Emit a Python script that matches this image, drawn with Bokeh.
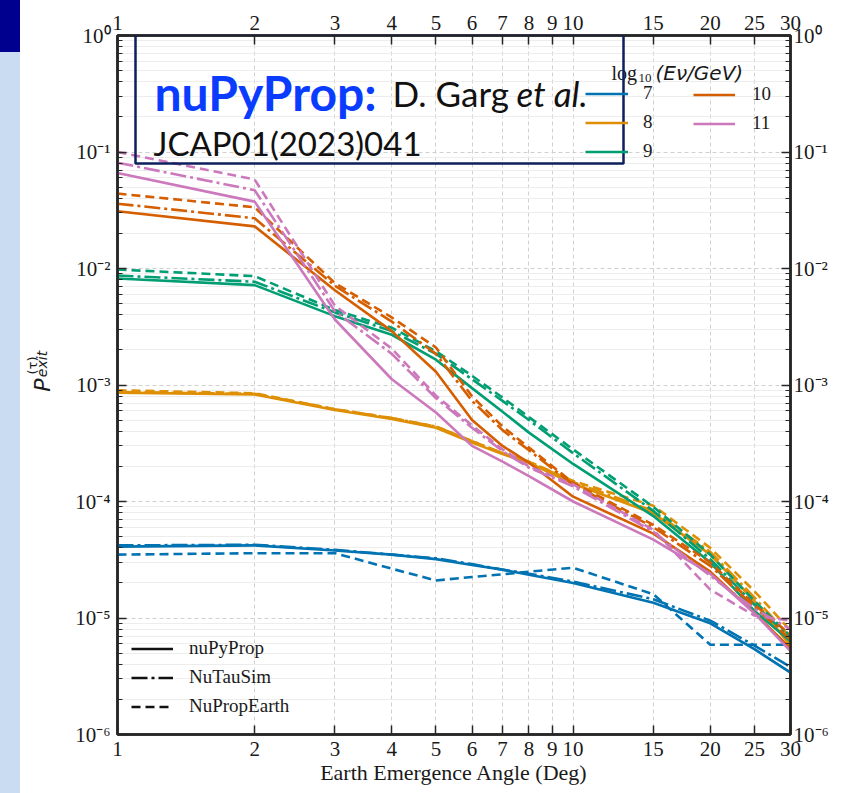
import math
from bokeh.plotting import figure
from bokeh.layouts import row
from bokeh.models import (LogAxis, LinearAxis, FixedTicker, CustomJSTickFormatter, Legend,
                          LegendItem, Label, BoxAnnotation, Spacer)
from bokeh.embed import file_html
from bokeh.resources import INLINE

# ---------------- data ----------------
X_DEG = [1, 2, 3, 4, 5, 6, 7, 8, 10, 15, 20, 25, 30]

E7_NUPYPROP = [4.1e-5, 4.2e-5, 3.8e-5, 3.5e-5, 3.2e-5, 2.85e-5, 2.6e-5, 2.35e-5, 2.0e-5, 1.35e-5, 9.0e-6, 5.4e-6, 3.4e-6]
E7_NUTAUSIM = [4.2e-5, 4.25e-5, 3.85e-5, 3.5e-5, 3.25e-5, 2.9e-5, 2.6e-5, 2.4e-5, 2.05e-5, 1.45e-5, 9.5e-6, 5.8e-6, 3.8e-6]
E7_NUPROPEARTH = [3.5e-5, 3.6e-5, 3.6e-5, 2.65e-5, 2.1e-5, 2.25e-5, 2.37e-5, 2.5e-5, 2.7e-5, 1.6e-5, 5.9e-6, 5.9e-6, 5.9e-6]

E8_NUPYPROP = [8.6e-4, 8.3e-4, 6.1e-4, 5.1e-4, 4.3e-4, 3.2e-4, 2.55e-4, 2.15e-4, 1.42e-4, 7.9e-5, 3.5e-5, 1.4e-5, 5.8e-6]
E8_NUTAUSIM = [8.7e-4, 8.4e-4, 6.2e-4, 5.2e-4, 4.4e-4, 3.3e-4, 2.6e-4, 2.2e-4, 1.47e-4, 8.3e-5, 3.7e-5, 1.5e-5, 6.8e-6]
E8_NUPROPEARTH = [9.0e-4, 8.5e-4, 6.2e-4, 5.2e-4, 4.4e-4, 3.3e-4, 2.6e-4, 2.2e-4, 1.5e-4, 9.2e-5, 4.0e-5, 1.7e-5, 7.8e-6]

E9_NUPYPROP = [8.2e-3, 7.2e-3, 3.9e-3, 2.7e-3, 1.65e-3, 9.4e-4, 5.9e-4, 3.9e-4, 2.1e-4, 7.5e-5, 3.0e-5, 1.15e-5, 6.3e-6]
E9_NUTAUSIM = [8.7e-3, 7.7e-3, 4.2e-3, 2.9e-3, 1.85e-3, 1.12e-3, 7.3e-4, 5.0e-4, 2.6e-4, 8.3e-5, 3.2e-5, 1.3e-5, 6.8e-6]
E9_NUPROPEARTH = [9.8e-3, 8.6e-3, 4.4e-3, 3.1e-3, 1.95e-3, 1.2e-3, 7.8e-4, 5.3e-4, 2.8e-4, 9.0e-5, 3.5e-5, 1.4e-5, 7.0e-6]

E10_NUPYPROP = [3.1e-2, 2.3e-2, 6.5e-3, 2.9e-3, 1.3e-3, 5.0e-4, 3.0e-4, 2.15e-4, 1.1e-4, 5.3e-5, 2.5e-5, 1.1e-5, 5.5e-6]
E10_NUTAUSIM = [3.6e-2, 2.7e-2, 7.1e-3, 3.5e-3, 1.85e-3, 7.3e-4, 4.1e-4, 2.75e-4, 1.4e-4, 6.0e-5, 2.8e-5, 1.25e-5, 6.5e-6]
E10_NUPROPEARTH = [4.4e-2, 3.35e-2, 7.5e-3, 3.8e-3, 2.1e-3, 8.0e-4, 4.4e-4, 2.9e-4, 1.45e-4, 6.3e-5, 3.0e-5, 1.3e-5, 7.2e-6]

E11_NUPYPROP = [6.6e-2, 3.75e-2, 3.65e-3, 1.12e-3, 5.8e-4, 3.0e-4, 2.2e-4, 1.65e-4, 1.0e-4, 4.7e-5, 2.4e-5, 1.1e-5, 5.2e-6]
E11_NUTAUSIM = [8.1e-2, 4.7e-2, 4.3e-3, 1.85e-3, 7.7e-4, 4.3e-4, 2.7e-4, 1.95e-4, 1.35e-4, 5.5e-5, 2.3e-5, 1.2e-5, 8.0e-6]
E11_NUPROPEARTH = [1.0e-1, 5.8e-2, 4.8e-3, 2.05e-3, 8.1e-4, 4.5e-4, 2.8e-4, 2.0e-4, 1.4e-4, 5.7e-5, 1.75e-5, 1.05e-5, 9.5e-6]

ENERGY_LABELS = ["7", "8", "9", "10", "11"]
ENERGY_COLORS = ["#0173b2", "#de8f05", "#029e73", "#d55e00", "#cc78bc"]
MODEL_NAMES = ["nuPyProp", "NuTauSim", "NuPropEarth"]
MODEL_DASHES = ["solid", "16 4 3 4", "9 5"]

SERIES = [
    [E7_NUPYPROP, E7_NUTAUSIM, E7_NUPROPEARTH],
    [E8_NUPYPROP, E8_NUTAUSIM, E8_NUPROPEARTH],
    [E9_NUPYPROP, E9_NUTAUSIM, E9_NUPROPEARTH],
    [E10_NUPYPROP, E10_NUTAUSIM, E10_NUPROPEARTH],
    [E11_NUPYPROP, E11_NUTAUSIM, E11_NUPROPEARTH],
]

X_TICKS = [1, 2, 3, 4, 5, 6, 7, 8, 9, 10, 15, 20, 25, 30]
Y_TICKS = [1e-6, 1e-5, 1e-4, 1e-3, 1e-2, 1e-1, 1.0]
Y_MINOR = [k * 10.0 ** e for e in range(-6, 0) for k in range(2, 10)]

# ---------------- layout constants (page pixels) ----------------
STRIP = 20
FL, FT = 117, 35          # frame left / top on the page
FW, FH = 673, 699         # frame size
FB = FT + FH

def fx(px):  # page x -> frame screen x
    return px - FL

def fy(py):  # page y -> frame screen y (upwards)
    return FB - py

SERIF = "Liberation Serif"
INK = "#262626"
EM = "\u2003"

p = figure(x_axis_type="log", y_axis_type="log", x_range=(1, 30), y_range=(1e-6, 1.0),
           frame_width=FW, frame_height=FH,
           min_border_left=FL - STRIP, min_border_top=FT,
           min_border_right=843 - FL - FW, min_border_bottom=793 - FB,
           output_backend="svg", toolbar_location=None,
           background_fill_color="white", border_fill_color="white")

bottom_ax = p.below[0]
left_ax = p.left[0]

yf_code = """
const sup = {'-':'\u207b','0':'\u2070','1':'\u00b9','2':'\u00b2','3':'\u00b3','4':'\u2074',
             '5':'\u2075','6':'\u2076','7':'\u2077','8':'\u2078','9':'\u2079'};
const e = Math.round(Math.log10(tick));
return '10' + String(e).split('').map(c => sup[c]).join('');
"""
xf_code = "return String(Math.round(tick));"

bottom_ax.ticker = FixedTicker(ticks=X_TICKS, minor_ticks=[])
bottom_ax.formatter = CustomJSTickFormatter(code=xf_code)
left_ax.ticker = FixedTicker(ticks=Y_TICKS, minor_ticks=Y_MINOR)
left_ax.formatter = CustomJSTickFormatter(code=yf_code)

top_ax = LogAxis(ticker=FixedTicker(ticks=X_TICKS, minor_ticks=[]),
                 formatter=CustomJSTickFormatter(code=xf_code))
right_ax = LogAxis(ticker=FixedTicker(ticks=Y_TICKS, minor_ticks=Y_MINOR),
                   formatter=CustomJSTickFormatter(code=yf_code))
p.add_layout(top_ax, "above")
p.add_layout(right_ax, "right")

for ax in [bottom_ax, left_ax, top_ax, right_ax]:
    ax.axis_line_width = 2.5
    ax.axis_line_color = INK
    ax.major_tick_in = 9
    ax.major_tick_out = 0
    ax.minor_tick_in = 5
    ax.minor_tick_out = 0
    ax.major_tick_line_width = 1.5
    ax.minor_tick_line_width = 1.2
    ax.major_tick_line_color = INK
    ax.minor_tick_line_color = INK
    ax.major_label_text_font = SERIF
    ax.major_label_text_font_size = "21px"
    ax.major_label_text_color = "#1a1a1a"

bottom_ax.major_label_standoff = 7
top_ax.major_label_standoff = 6
left_ax.major_label_standoff = 7
right_ax.major_label_standoff = 3

bottom_ax.axis_label = "Earth Emergence Angle (Deg)"
bottom_ax.axis_label_text_font = SERIF
bottom_ax.axis_label_text_font_size = "22px"
bottom_ax.axis_label_text_font_style = "normal"
bottom_ax.axis_label_text_color = "#1a1a1a"
bottom_ax.axis_label_standoff = 1

# y-axis label P^(tau)_exit built from three rotated axis labels
left_ax.axis_label = "P"
left_ax.axis_label_text_font = "DejaVu Sans"
left_ax.axis_label_text_font_style = "italic"
left_ax.axis_label_text_font_size = "22px"
left_ax.axis_label_text_color = "#1a1a1a"
left_ax.axis_label_standoff = 17

def label_axis(text, size, style, standoff):
    ax = LinearAxis(ticker=FixedTicker(ticks=[]), axis_line_color=None,
                    major_tick_line_color=None, minor_tick_line_color=None,
                    major_label_text_font_size="0px",
                    axis_label=text, axis_label_text_font="DejaVu Sans",
                    axis_label_text_font_size=size, axis_label_text_font_style=style,
                    axis_label_text_color="#1a1a1a", axis_label_standoff=standoff)
    p.add_layout(ax, "left")
    return ax

label_axis(EM * 3 + "(τ)", "13px", "normal", -12)
label_axis(EM * 3 + "exit", "14px", "italic", -28)

p.xgrid.ticker = bottom_ax.ticker
p.ygrid.ticker = left_ax.ticker
for g in [p.xgrid, p.ygrid]:
    g.grid_line_color = "#d0d0d0"
    g.grid_line_dash = "4 3"
    g.grid_line_width = 1
p.ygrid.minor_grid_line_color = "#ededed"
p.ygrid.minor_grid_line_width = 1

p.outline_line_color = INK
p.outline_line_width = 2.5

# ---------------- curves ----------------
solid_renderers = []
for ei, models in enumerate(SERIES):
    for mi, yvals in enumerate(models):
        r = p.line(X_DEG, yvals, line_color=ENERGY_COLORS[ei], line_width=2.6,
                   line_dash=MODEL_DASHES[mi])
        if mi == 0:
            solid_renderers.append(r)

# one-point lines: invisible on the plot, they only provide the black legend keys
style_renderers = [p.line(x=X_DEG[:1], y=E7_NUPYPROP[:1], line_color="#111111",
                          line_width=2.6, line_dash=d) for d in MODEL_DASHES]

# ---------------- legends ----------------
def make_legend(items, x, y, size, gw, standoff):
    return Legend(items=items, location=(x, y), orientation="vertical",
                  glyph_width=gw, glyph_height=21, label_height=21, spacing=7,
                  label_standoff=standoff, padding=0, margin=0,
                  border_line_alpha=0, background_fill_alpha=0,
                  label_text_font=SERIF, label_text_font_size=size,
                  label_text_color="#1a1a1a")

LEG_TOP = 85
col1 = [LegendItem(label=ENERGY_LABELS[i], renderers=[solid_renderers[i]]) for i in range(3)]
col2 = [LegendItem(label=ENERGY_LABELS[i], renderers=[solid_renderers[i]]) for i in range(3, 5)]
p.add_layout(make_legend(col1, fx(585), fy(LEG_TOP + 77), "19px", 43, 15))
p.add_layout(make_legend(col2, fx(693), fy(LEG_TOP + 49), "19px", 42, 17))

style_items = [LegendItem(label=MODEL_NAMES[i], renderers=[style_renderers[i]]) for i in range(3)]
p.add_layout(make_legend(style_items, fx(131), fy(640 + 77), "19px", 42, 16))

def label(px, py, text, font, size, style="normal", color="#1a1a1a"):
    p.add_layout(Label(x=fx(px), y=fy(py), x_units="screen", y_units="screen", text=text,
                       text_font=font, text_font_size=size, text_font_style=style,
                       text_color=color, text_baseline="alphabetic"))

# legend title: log10(E_nu/GeV)
label(611, 72, "log", SERIF, "20px")
label(638, 77, "10", SERIF, "13px")
label(655, 72, "(Eν/GeV)", "DejaVu Sans", "20px", "italic")

# citation box
p.add_layout(BoxAnnotation(left=fx(135), right=fx(623), top=fy(34), bottom=fy(163),
                           left_units="screen", right_units="screen",
                           top_units="screen", bottom_units="screen",
                           fill_alpha=0, line_color="#0d1f5c", line_alpha=1, line_width=2.5))
label(154, 92, "nuPyProp:", "Lato", "48px", "bold", "#0a3cff")
label(392, 92, "D. Garg", "Lato", "35px", "normal", "#111111")
label(516, 92, "et al.", "Lato", "35px", "italic", "#111111")
label(153, 142, "JCAP01(2023)041", "Lato", "33px", "normal", "#111111")

# slide edge on the far left of the page
strip = Spacer(width=STRIP, height=793,
               styles={"background": "linear-gradient(#00008f 0px, #00008f 52px, #c9dcf1 52px, #c9dcf1 100%)"})

page = row(strip, p)
open("out.html", "w").write(file_html(page, INLINE))
